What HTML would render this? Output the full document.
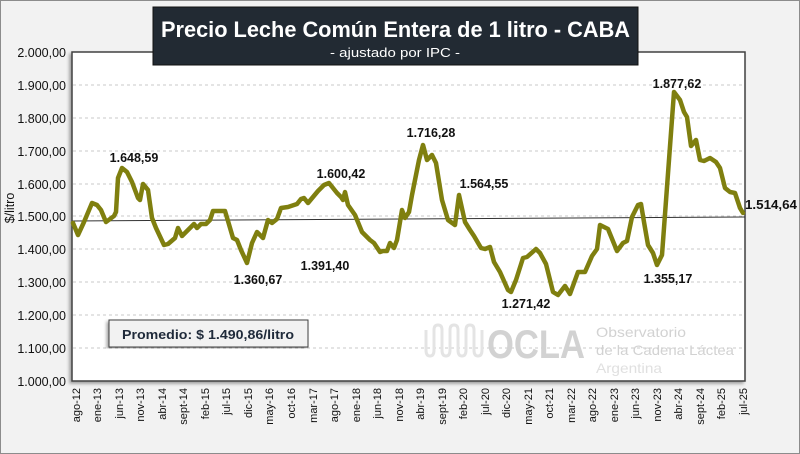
<!DOCTYPE html>
<html><head><meta charset="utf-8"><style>
html,body{margin:0;padding:0;background:#fff;}
svg{display:block;}
text{font-family:"Liberation Sans",sans-serif;}
</style></head><body>
<svg width="800" height="454" viewBox="0 0 800 454" xmlns="http://www.w3.org/2000/svg">
<defs>
<filter id="sh" x="-5%" y="-5%" width="110%" height="110%"><feDropShadow dx="-2" dy="2" stdDeviation="1.5" flood-color="#000" flood-opacity="0.35"/></filter>
</defs>
<rect x="0.5" y="0.5" width="799" height="453" fill="#f2f2f2" stroke="#8c8c8c"/>
<rect x="72" y="52" width="673" height="329" fill="#fff" stroke="#404040" stroke-width="1.5" filter="url(#sh)"/>
<g stroke="#c8c8c8" stroke-dasharray="3,3" stroke-width="1">
<line x1="73" x2="744" y1="85" y2="85"/><line x1="73" x2="744" y1="118" y2="118"/><line x1="73" x2="744" y1="151" y2="151"/>
<line x1="73" x2="744" y1="184" y2="184"/><line x1="73" x2="744" y1="216" y2="216"/><line x1="73" x2="744" y1="249" y2="249"/>
<line x1="73" x2="744" y1="282" y2="282"/><line x1="73" x2="744" y1="315" y2="315"/><line x1="73" x2="744" y1="348" y2="348"/>
</g>
<!-- logo -->
<text x="487" y="358" font-size="40" font-weight="bold" fill="#d2d2d2" textLength="98" lengthAdjust="spacingAndGlyphs">OCLA</text>
<text x="596" y="337" font-size="14" fill="#d2d2d2" textLength="90" lengthAdjust="spacingAndGlyphs">Observatorio</text>
<text x="596" y="355" font-size="14" fill="#d2d2d2" textLength="138" lengthAdjust="spacingAndGlyphs">de la Cadena Láctea</text>
<text x="596" y="373" font-size="14" fill="#e0e0e0" textLength="66" lengthAdjust="spacingAndGlyphs">Argentina</text>
<path d="M426 330 v20 q0 6 4 6 q4 0 4 -6 v-20 q0 -5 4 -5 q4 0 4 5 v20 q0 6 4 6 q4 0 4 -6 v-20 q0 -5 4 -5 q4 0 4 5 v20 q0 6 4 6 q4 0 4 -6 v-20 q0 -5 4 -5 q4 0 4 5 v20 q0 6 4 6 q4 0 4 -6 v-20" fill="none" stroke="#e4e4e4" stroke-width="3"/>
<line x1="72" y1="221" x2="745" y2="217" stroke="#333" stroke-width="1"/>
<polyline fill="none" stroke="#7f7f0f" stroke-width="4.5" stroke-linejoin="round" stroke-linecap="round" points="73,223 78,235 84,222 92,203 97,205 101,210 106,222 110,219 114,216 116,212 118,178 122,168 127,172 132,182 138,198 140,200 143,184 148,190 152,218 156,228 164,245 168,244 175,238 178,228 182,236 190,228 194,224 197,228 201,224 206,224 210,220 213,211 223,211 225,211 228,221 233,238 237,240 241,250 247,263 252,243 257,232 263,238 268,220 272,223 277,219 281,208 288,207 297,204 301,199 304,198 308,203 313,197 318,191 324,185 329,183 333,188 337,193 341,197 343,200 345,192 348,205 355,215 362,232 370,240 374,243 380,252 383,251 387,251 390,243 394,248 397,240 402,210 405,218 409,212 412,195 415,180 419,160 423,145 427,160 432,155 436,163 442,200 448,220 455,225 459,195 465,222 470,230 474,236 481,248 485,249 490,247 494,262 500,272 508,290 511,292 516,280 523,258 527,257 536,249 540,253 546,264 553,292 558,295 565,286 570,294 578,272 585,272 592,256 597,249 600,225 608,229 617,251 623,243 627,241 632,217 638,205 641,204 644,222 648,245 653,253 657,265 662,255 674,92 680,100 684,112 687,117 691,146 696,140 700,160 704,161 710,158 716,162 720,168 725,188 730,192 735,193 740,208 743,213"/>
<g font-size="12.5" font-weight="bold" fill="#111" text-anchor="middle">
<text x="134" y="162">1.648,59</text>
<text x="258" y="284">1.360,67</text>
<text x="341" y="178">1.600,42</text>
<text x="325" y="270">1.391,40</text>
<text x="431" y="137">1.716,28</text>
<text x="484" y="188">1.564,55</text>
<text x="526" y="308">1.271,42</text>
<text x="677" y="88">1.877,62</text>
<text x="668" y="283">1.355,17</text>
<text x="745" y="209" text-anchor="start" textLength="52" lengthAdjust="spacingAndGlyphs">1.514,64</text>
</g>
<g font-size="12.5" fill="#111" text-anchor="end">
<text x="66" y="57">2.000,00</text><text x="66" y="90">1.900,00</text><text x="66" y="123">1.800,00</text>
<text x="66" y="156">1.700,00</text><text x="66" y="189">1.600,00</text><text x="66" y="221">1.500,00</text>
<text x="66" y="254">1.400,00</text><text x="66" y="287">1.300,00</text><text x="66" y="320">1.200,00</text>
<text x="66" y="353">1.100,00</text><text x="66" y="386">1.000,00</text>
</g>
<text transform="translate(14,208) rotate(-90)" font-size="12.5" fill="#111" text-anchor="middle">$/litro</text>
<g font-size="11" fill="#111" text-anchor="end">
<text transform="translate(80,388) rotate(-90)">ago-12</text>
<text transform="translate(101,388) rotate(-90)">ene-13</text>
<text transform="translate(123,388) rotate(-90)">jun-13</text>
<text transform="translate(144,388) rotate(-90)">nov-13</text>
<text transform="translate(166,388) rotate(-90)">abr-14</text>
<text transform="translate(187,388) rotate(-90)">sept-14</text>
<text transform="translate(209,388) rotate(-90)">feb-15</text>
<text transform="translate(230,388) rotate(-90)">jul-15</text>
<text transform="translate(252,388) rotate(-90)">dic-15</text>
<text transform="translate(273,388) rotate(-90)">may-16</text>
<text transform="translate(295,388) rotate(-90)">oct-16</text>
<text transform="translate(317,388) rotate(-90)">mar-17</text>
<text transform="translate(338,388) rotate(-90)">ago-17</text>
<text transform="translate(360,388) rotate(-90)">ene-18</text>
<text transform="translate(381,388) rotate(-90)">jun-18</text>
<text transform="translate(403,388) rotate(-90)">nov-18</text>
<text transform="translate(424,388) rotate(-90)">abr-19</text>
<text transform="translate(446,388) rotate(-90)">sept-19</text>
<text transform="translate(467,388) rotate(-90)">feb-20</text>
<text transform="translate(489,388) rotate(-90)">jul-20</text>
<text transform="translate(510,388) rotate(-90)">dic-20</text>
<text transform="translate(532,388) rotate(-90)">may-21</text>
<text transform="translate(553,388) rotate(-90)">oct-21</text>
<text transform="translate(575,388) rotate(-90)">mar-22</text>
<text transform="translate(596,388) rotate(-90)">ago-22</text>
<text transform="translate(618,388) rotate(-90)">ene-23</text>
<text transform="translate(639,388) rotate(-90)">jun-23</text>
<text transform="translate(661,388) rotate(-90)">nov-23</text>
<text transform="translate(682,388) rotate(-90)">abr-24</text>
<text transform="translate(704,388) rotate(-90)">sept-24</text>
<text transform="translate(725,388) rotate(-90)">feb-25</text>
<text transform="translate(747,388) rotate(-90)">jul-25</text>
</g>
<rect x="109" y="320" width="199" height="27" fill="#f2f2f2" stroke="#404040" filter="url(#sh)"/>
<text x="208" y="339" font-size="13" font-weight="bold" fill="#1f2a3a" text-anchor="middle" textLength="172" lengthAdjust="spacingAndGlyphs">Promedio: $ 1.490,86/litro</text>
<rect x="153" y="7" width="485" height="58" fill="#222a33" stroke="#111"/>
<text x="161" y="37" font-size="22" font-weight="bold" fill="#fff" textLength="469" lengthAdjust="spacingAndGlyphs">Precio Leche Común Entera de 1 litro - CABA</text>
<text x="395" y="57" font-size="13" fill="#fff" text-anchor="middle" textLength="130" lengthAdjust="spacingAndGlyphs">- ajustado por IPC -</text>
</svg>
</body></html>
